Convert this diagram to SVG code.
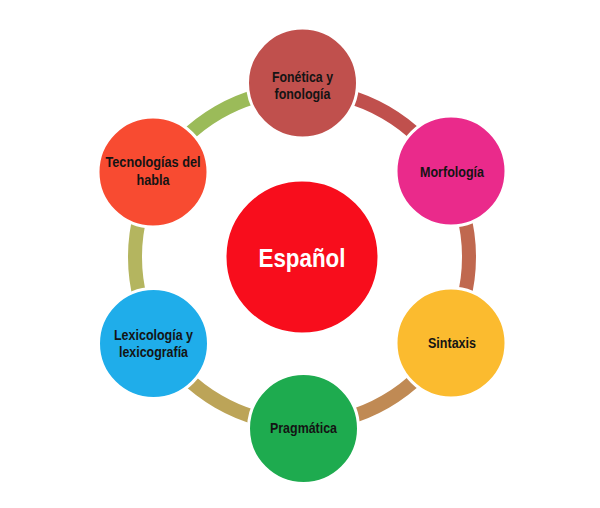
<svg xmlns="http://www.w3.org/2000/svg" width="600" height="508" viewBox="0 0 600 508">
<style>
.ring{fill:none;stroke-width:14;stroke-linecap:butt}
.node{stroke:#fff;stroke-width:3}
.lbl{font-family:"Liberation Sans",Arial,sans-serif;font-weight:bold;font-size:14px;fill:#141414;text-anchor:middle}
.main{font-family:"Liberation Sans",Arial,sans-serif;font-weight:bold;font-size:26px;fill:#fff;text-anchor:middle}
</style>
<rect width="600" height="508" fill="#fff"/>
<g id="connectors">
<path class="ring" stroke="#C0504D" d="M302,90 A167,167 0 0 1 446.63,173.5"/>
<path class="ring" stroke="#C0684F" d="M446.63,173.5 A167,167 0 0 1 446.63,340.5"/>
<path class="ring" stroke="#C08A54" d="M446.63,340.5 A167,167 0 0 1 302,424"/>
<path class="ring" stroke="#BCA458" d="M302,424 A167,167 0 0 1 157.37,340.5"/>
<path class="ring" stroke="#B4B55F" d="M157.37,340.5 A167,167 0 0 1 157.37,173.5"/>
<path class="ring" stroke="#9BBB59" d="M157.37,173.5 A167,167 0 0 1 302,90"/>
</g>
<g id="espanol">
<circle class="node" cx="302" cy="257" r="77" fill="#F80D1C"/>
<text class="main" x="302" y="267" textLength="87" lengthAdjust="spacingAndGlyphs">Español</text>
</g>
<g id="fonetica">
<circle class="node" cx="302.5" cy="83" r="55" fill="#C0504D"/>
<text class="lbl" x="302.5" y="82" textLength="61" lengthAdjust="spacingAndGlyphs">Fonética y</text>
<text class="lbl" x="302.5" y="99" textLength="56" lengthAdjust="spacingAndGlyphs">fonología</text>
</g>
<g id="morfologia">
<circle class="node" cx="451" cy="171" r="55" fill="#EA2A8B"/>
<text class="lbl" x="452" y="177" textLength="64" lengthAdjust="spacingAndGlyphs">Morfología</text>
</g>
<g id="sintaxis">
<circle class="node" cx="451" cy="343" r="55" fill="#FBBB2F"/>
<text class="lbl" x="452" y="348" textLength="48" lengthAdjust="spacingAndGlyphs">Sintaxis</text>
</g>
<g id="pragmatica">
<circle class="node" cx="303.5" cy="428.5" r="55" fill="#1EAB4F"/>
<text class="lbl" x="303.5" y="433" textLength="67" lengthAdjust="spacingAndGlyphs">Pragmática</text>
</g>
<g id="lexicologia">
<circle class="node" cx="153.5" cy="343.5" r="55" fill="#1FADEA"/>
<text class="lbl" x="153.5" y="340" textLength="79" lengthAdjust="spacingAndGlyphs">Lexicología y</text>
<text class="lbl" x="153.5" y="357" textLength="69" lengthAdjust="spacingAndGlyphs">lexicografía</text>
</g>
<g id="tecnologias">
<circle class="node" cx="153" cy="172" r="55" fill="#F84B31"/>
<text class="lbl" x="153" y="167" textLength="95" lengthAdjust="spacingAndGlyphs">Tecnologías del</text>
<text class="lbl" x="153" y="185" textLength="33" lengthAdjust="spacingAndGlyphs">habla</text>
</g>
</svg>
